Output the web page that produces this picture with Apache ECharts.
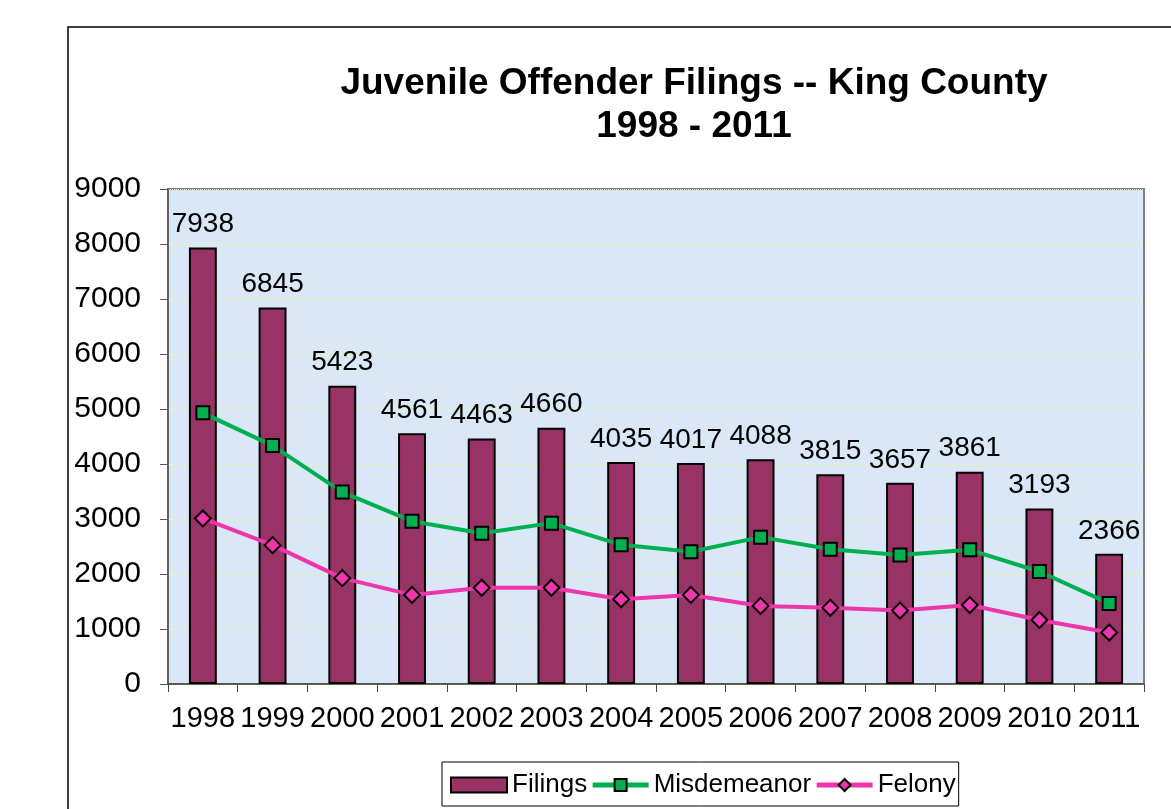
<!DOCTYPE html>
<html>
<head>
<meta charset="utf-8">
<script src="https://cdn.jsdelivr.net/npm/echarts@6/dist/echarts.min.js"></script>
<style>
html,body{margin:0;padding:0;background:#fff;}
#main{width:1171px;height:809px;}
</style>
</head>
<body>
<div id="main"></div>
<script>
const years = ['1998','1999','2000','2001','2002','2003','2004','2005','2006','2007','2008','2009','2010','2011'];
const filings = [7938,6845,5423,4561,4463,4660,4035,4017,4088,3815,3657,3861,3193,2366];
const misdemeanor = [4930,4335,3490,2960,2740,2925,2530,2405,2670,2450,2345,2440,2045,1465];
const felony = [3010,2525,1925,1620,1750,1750,1540,1620,1420,1385,1335,1435,1165,935];
const yTicks = {min:0, max:9000, interval:1000};

const FONT = '"Liberation Sans", Arial, sans-serif';
const chart = echarts.init(document.getElementById('main'));
chart.setOption({
  backgroundColor:'#ffffff',
  animation:false,
  graphic:[{type:'rect', shape:{x:68,y:27,width:1200,height:900}, style:{fill:'none', stroke:'#000', lineWidth:1.5}, z:-1}],
  title:{
    text:'Juvenile Offender Filings -- King County\n1998 - 2011',
    left:694, top:62, textAlign:'center', padding:0,
    textStyle:{fontFamily:FONT, fontWeight:'bold', fontSize:37, lineHeight:43, color:'#000'}
  },
  grid:{left:168, right:27, top:189, bottom:125, show:true, backgroundColor:'#d9e7f6', borderColor:'#808080', borderWidth:2},
  legend:{
    top:762, left:442,
    data:[
      {name:'Filings', icon:'rect'},
      {name:'Misdemeanor', lineStyle:{width:5}},
      {name:'Felony', lineStyle:{width:5}}
    ],
    itemWidth:56, itemHeight:15, itemGap:3,
    borderColor:'#000', borderWidth:1, padding:[10,3,8,8],
    textStyle:{fontFamily:FONT, fontSize:26, color:'#000'}
  },
  xAxis:{
    type:'category', data:years,
    axisLine:{lineStyle:{color:'#444', width:1.5}},
    axisTick:{show:true, length:8, lineStyle:{color:'#444'}},
    axisLabel:{fontFamily:FONT, fontSize:29, color:'#000', margin:20, interval:0}
  },
  yAxis:{
    type:'value', min:yTicks.min, max:yTicks.max, interval:yTicks.interval,
    axisLine:{show:true, lineStyle:{color:'#555', width:1.5}},
    axisTick:{show:true, length:8, lineStyle:{color:'#555'}},
    axisLabel:{fontFamily:FONT, fontSize:30, color:'#000', margin:27, formatter:function(v){return String(v);}},
    splitLine:{show:true, lineStyle:{color:'#e6f3c6', width:1, type:'dotted'}}
  },
  series:[
    {
      name:'Filings', type:'bar', data:filings, barWidth:'40%',
      itemStyle:{color:'#993366', borderColor:'#000', borderWidth:2},
      label:{show:true, position:'top', distance:9, fontFamily:FONT, fontSize:28, color:'#000'},
      z:2
    },
    {
      name:'Misdemeanor', type:'line', data:misdemeanor,
      symbol:'rect', symbolSize:13,
      lineStyle:{color:'#00b050', width:4},
      itemStyle:{color:'#00b050', borderColor:'#000', borderWidth:2},
      z:4
    },
    {
      name:'Felony', type:'line', data:felony,
      symbol:'diamond', symbolSize:16,
      lineStyle:{color:'#ee36ac', width:4},
      itemStyle:{color:'#ee36ac', borderColor:'#000', borderWidth:2},
      z:3
    }
  ]
});
</script>
</body>
</html>
